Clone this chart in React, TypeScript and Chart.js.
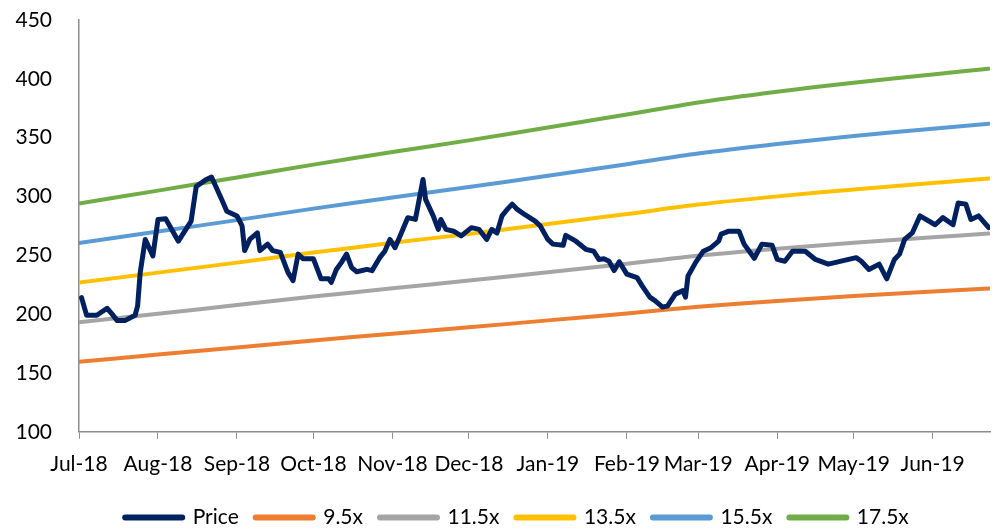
import React, { useEffect, useRef } from "react";
import { Chart, registerables } from "chart.js";

Chart.register(...registerables);

// Days counted from 1 Jul 2018
const monthDays = [0, 31, 62, 92, 123, 153, 184, 215, 243, 274, 304, 335];
const monthLabels = [
  "Jul-18", "Aug-18", "Sep-18", "Oct-18", "Nov-18", "Dec-18",
  "Jan-19", "Feb-19", "Mar-19", "Apr-19", "May-19", "Jun-19",
];

const priceDays = [
  1, 3, 7, 11, 13, 15, 18, 22, 23, 24, 26, 29, 31, 34, 39, 44, 46, 50, 52, 56,
  58, 62, 64, 65, 67, 70, 71, 74, 76, 79, 82, 84, 86, 88, 92, 95, 98, 99, 101, 103,
  105, 107, 109, 113, 115, 118, 120, 122, 124, 126, 129, 132, 135, 136, 139, 141, 142, 144, 147, 150,
  154, 157, 160, 162, 164, 166, 168, 170, 172, 175, 179, 181, 184, 186, 190, 191, 195, 199, 202, 204,
  206, 208, 210, 212, 215, 219, 221, 224, 226, 229, 231, 234, 237, 238, 239, 242, 245, 248, 251, 252,
  255, 259, 261, 265, 268, 272, 274, 277, 280, 285, 289, 294, 297, 302, 305, 307, 310, 314, 317, 320,
  322, 324, 327, 330, 336, 339, 343, 345, 348, 350, 353, 357,
];
const priceValues = [
  214, 199, 199, 205, 200, 194.5, 194.5, 199, 207, 235, 263.5, 249.5, 280.5, 281, 262, 279, 308.5, 314.5, 316.5, 297.5,
  287.5, 283.5, 275, 254, 263.5, 269, 254, 259.5, 254, 252.5, 235.5, 228.5, 251, 247, 247, 230, 230, 227, 238, 244,
  251, 239.5, 236, 238, 237, 248, 253.5, 263.5, 256.5, 266.5, 282, 280.5, 314.5, 297.5, 283.5, 272, 280.5, 272, 270.5, 266.5,
  273.5, 272, 263.5, 272, 269, 283.5, 289, 293.5, 289, 284.5, 279, 275, 263.5, 259.5, 258.5, 267, 262, 255, 253.5, 246.5,
  247, 245, 237, 244.5, 234, 231, 224, 214.5, 211.5, 206, 207, 217, 220, 214.5, 232.5, 244, 253.5, 256.5, 262, 268,
  270.5, 270.5, 259.5, 247.5, 259.5, 258.5, 246.5, 245, 253.5, 253.5, 246.5, 242.5, 244, 246.5, 248, 245, 238, 242.5, 230, 246.5,
  251, 263.5, 269, 283.5, 276, 282, 276, 294.5, 293.5, 280.5, 283.5, 273.5,
];

const bandDays = [0, 31, 62, 92, 123, 153, 184, 215, 243, 274, 304, 335, 357];
const band95 = [159.6, 165.6, 171.6, 177.6, 183.4, 188.8, 194.7, 200.6, 206.2, 211.2, 215.4, 219.2, 221.8];
const band115 = [193.2, 200.4, 207.7, 214.9, 222.0, 228.5, 235.6, 242.9, 249.7, 255.6, 260.7, 265.3, 268.5];
const band135 = [226.8, 235.3, 243.8, 252.3, 260.6, 268.2, 276.6, 285.1, 293.1, 300.1, 306.0, 311.4, 315.2];
const band155 = [260.4, 270.2, 279.9, 289.7, 299.2, 308.0, 317.6, 327.4, 336.5, 344.6, 351.4, 357.6, 361.9];
const band175 = [294.0, 305.0, 316.1, 327.1, 337.8, 347.7, 358.6, 369.6, 379.9, 389.0, 396.7, 403.7, 408.6];

const seriesNames = ["Price", "9.5x", "11.5x", "13.5x", "15.5x", "17.5x"];
const seriesColors = ["#002060", "#ED7D31", "#A5A5A5", "#FFC000", "#5B9BD5", "#70AD47"];

const FONT = "Lato, 'Liberation Sans', sans-serif";

export default function App() {
  const canvasRef = useRef<HTMLCanvasElement | null>(null);

  useEffect(() => {
    const canvas = canvasRef.current;
    if (!canvas) return;

    const toPts = (xs: number[], ys: number[]) => xs.map((x, i) => ({ x, y: ys[i] }));
    const bands = [band95, band115, band135, band155, band175];

    const datasets: any[] = [
      {
        label: seriesNames[0],
        data: toPts(priceDays, priceValues),
        borderColor: seriesColors[0],
        backgroundColor: seriesColors[0],
        borderWidth: 5,
        pointRadius: 0,
        tension: 0,
        borderCapStyle: "round",
        borderJoinStyle: "round",
      },
      ...bands.map((b, i) => ({
        label: seriesNames[i + 1],
        data: toPts(bandDays, b),
        borderColor: seriesColors[i + 1],
        backgroundColor: seriesColors[i + 1],
        borderWidth: 4,
        pointRadius: 0,
        tension: 0.3,
        borderCapStyle: "round",
        borderJoinStyle: "round",
      })),
    ];

    // let the y tick labels use the space left of the axis box
    const widenYLabelArea = {
      id: "widenYLabelArea",
      afterLayout: (ch: any) => {
        if (ch.scales.y) ch.scales.y.left = 0;
      },
    };

    const chart = new Chart(canvas, {
      type: "line",
      data: { datasets },
      plugins: [widenYLabelArea],
      options: {
        animation: false,
        responsive: true,
        maintainAspectRatio: false,
        layout: { padding: { top: 20, right: 7, left: 44, bottom: -7 } },
        plugins: {
          tooltip: { enabled: false },
          legend: {
            position: "bottom",
            labels: {
              font: { family: FONT, size: 21 },
              color: "#000",
              usePointStyle: true,
              pointStyle: "line",
              pointStyleWidth: 57,
              padding: 17,
              generateLabels: (ch: any) => {
                const items = Chart.defaults.plugins.legend.labels.generateLabels(ch);
                return items.map((it: any) => ({ ...it, lineWidth: 6, lineCap: "round", pointStyle: "line" }));
              },
            },
          },
        },
        scales: {
          x: {
            type: "linear",
            min: 0,
            max: 357.5,
            afterBuildTicks: (axis: any) => {
              axis.ticks = monthDays.map((v) => ({ value: v }));
            },
            ticks: {
              autoSkip: false,
              maxRotation: 0,
              minRotation: 0,
              padding: 13,
              color: "#000",
              font: { family: FONT, size: 21 },
              callback: (value: any) => {
                const idx = monthDays.indexOf(Number(value));
                return idx >= 0 ? monthLabels[idx] : "";
              },
            },
            grid: {
              display: true,
              drawOnChartArea: false,
              drawTicks: true,
              tickLength: 7,
              color: "#8C8C8C",
              lineWidth: 1,
            },
            border: { display: true, color: "#8C8C8C", width: 1.5 },
          },
          y: {
            type: "linear",
            min: 100,
            max: 450,
            afterFit: (scale: any) => {
              scale.width = 35;
              scale.paddingTop = 0;
              scale.paddingBottom = 0;
            },
            ticks: {
              stepSize: 50,
              padding: 27,
              color: "#000",
              font: { family: FONT, size: 21 },
            },
            grid: { display: false, drawTicks: false },
            border: { display: true, color: "#8C8C8C", width: 1.5 },
          },
        },
      } as any,
    });

    return () => chart.destroy();
  }, []);

  return (
    <div style={{ position: "absolute", left: 0, top: 0, width: 997, height: 531 }}>
      <canvas ref={canvasRef} />
    </div>
  );
}
